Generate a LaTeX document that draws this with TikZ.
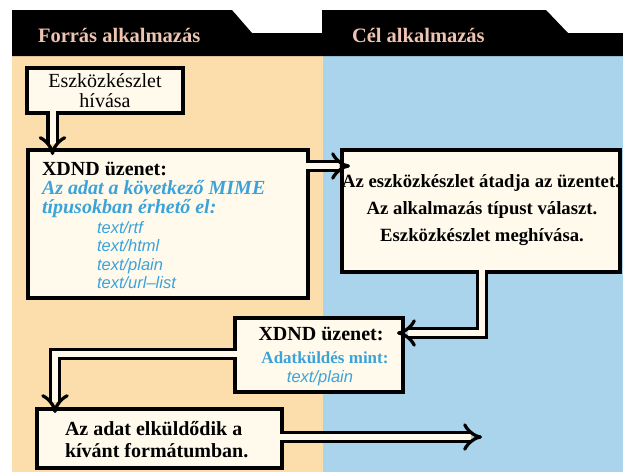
\documentclass[tikz,border=0pt]{standalone}
\usepackage{fontspec}
\setmainfont{Liberation Serif}
\setsansfont{Liberation Sans}
\usetikzlibrary{arrows.meta}

\definecolor{barack}{RGB}{252,222,172}
\definecolor{egkek}{RGB}{170,212,235}
\definecolor{papir}{RGB}{255,250,235}
\definecolor{kekbetu}{RGB}{59,163,218}
\definecolor{fejbetu}{RGB}{238,196,176}

\newcommand\fejfont{\fontsize{20.5}{22}\selectfont\bfseries}
\newcommand\nagyfont{\fontsize{20}{22}\selectfont\bfseries}
\newcommand\dolt{\fontsize{20}{22}\selectfont\bfseries\itshape}
\newcommand\listafont{\fontsize{16.5}{18}\selectfont\sffamily\itshape}
\newcommand\celfont{\fontsize{18.7}{22}\selectfont\bfseries}

\tikzset{
  panel/.style={draw=black, line width=3.2pt, fill=papir, inner sep=0pt, outer sep=0pt},
  hollow/.style={draw=black, line width=3.2pt, double=papir, double distance=6pt,
                 line join=miter, -{Implies}},
  sor/.style={inner sep=0pt, outer sep=0pt},
}

\begin{document}
\begin{tikzpicture}[x=1pt,y=-1pt]
\useasboundingbox (0,0) rectangle (623,472);

% column backgrounds
\fill[barack] (12,56) rectangle (323,472);
\fill[egkek] (323,56) rectangle (623,472);

% header band with the two tabs
\fill[black] (12,10) -- (232,10) -- (252,33) -- (322,33) -- (322,10)
  -- (546,10) -- (568,33) -- (623,33) -- (623,56) -- (12,56) -- cycle;
\node[sor, anchor=base west, font=\fejfont, text=fejbetu] (forras) at (38,42) {Forrás alkalmazás};
\node[sor, anchor=base west, font=\fejfont, text=fejbetu] (cel) at (352,42) {Cél alkalmazás};

% boxes
\node[panel, minimum width=156pt, minimum height=45pt, align=center,
      font=\fontsize{20}{19.5}\selectfont] (eszk) at (105,90.5) {Eszközkészlet\\hívása};
\node[panel, minimum width=280pt, minimum height=148pt] (xdnd1) at (168,224) {};
\node[panel, minimum width=278pt, minimum height=122pt] (celbox) at (481,211) {};
\node[panel, minimum width=168pt, minimum height=74pt] (xdnd2) at (319,355) {};
\node[panel, minimum width=245pt, minimum height=59pt] (also) at (159.5,438.5) {};
\coordinate (kimenet) at (482,437);

% connectors
\draw[hollow] ([xshift=25.5pt,yshift=1.6pt]eszk.south west)
  -- ([xshift=24.5pt,yshift=-5pt]xdnd1.north west);
\draw[hollow] ([xshift=-1.6pt,yshift=-16pt]xdnd1.north east)
  -- ([xshift=8pt,yshift=-16pt]celbox.north west);
\draw[hollow] ([xshift=140pt,yshift=1.6pt]celbox.south west)
  |- ([xshift=-6pt,yshift=-15pt]xdnd2.north east);
\draw[hollow] ([xshift=1.6pt,yshift=-36pt]xdnd2.north west)
  -| ([xshift=18pt,yshift=-4pt]also.north west);
\draw[hollow] ([xshift=-1.6pt]also.east |- kimenet) -- (kimenet);

% first XDND message
\node[sor, anchor=base west, font=\nagyfont] (x1a) at (42,175) {XDND üzenet:};
\node[sor, anchor=base west, font=\dolt, text=kekbetu] (x1b) at (42,194) {Az adat a következő MIME};
\node[sor, anchor=base west, font=\dolt, text=kekbetu] (x1c) at (42,213) {típusokban érhető el:};
\node[sor, anchor=base west, font=\listafont, text=kekbetu] (m1) at (97,233) {text/rtf};
\node[sor, anchor=base west, font=\listafont, text=kekbetu] (m2) at (97,251) {text/html};
\node[sor, anchor=base west, font=\listafont, text=kekbetu] (m3) at (97,270) {text/plain};
\node[sor, anchor=base west, font=\listafont, text=kekbetu] (m4) at (97,288) {text/url–list};

% target application box
\node[sor, anchor=base, font=\celfont] (c1) at (481,187) {Az eszközkészlet átadja az üzentet.};
\node[sor, anchor=base, font=\celfont] (c2) at (482,214) {Az alkalmazás típust választ.};
\node[sor, anchor=base, font=\celfont] (c3) at (482,241) {Eszközkészlet meghívása.};

% second XDND message
\node[sor, anchor=base, font=\nagyfont] (x2a) at (321,340) {XDND üzenet:};
\node[sor, anchor=base, font=\fontsize{17}{19}\selectfont\bfseries, text=kekbetu] (x2b) at (325,363) {Adatküldés mint:};
\node[sor, anchor=base, font=\listafont, text=kekbetu] (x2c) at (320,382) {text/plain};

% data sent
\node[sor, anchor=base west, font=\nagyfont] (a1) at (65,435) {Az adat elküldődik a};
\node[sor, anchor=base west, font=\nagyfont] (a2) at (65,457) {kívánt formátumban.};
\end{tikzpicture}
\end{document}
